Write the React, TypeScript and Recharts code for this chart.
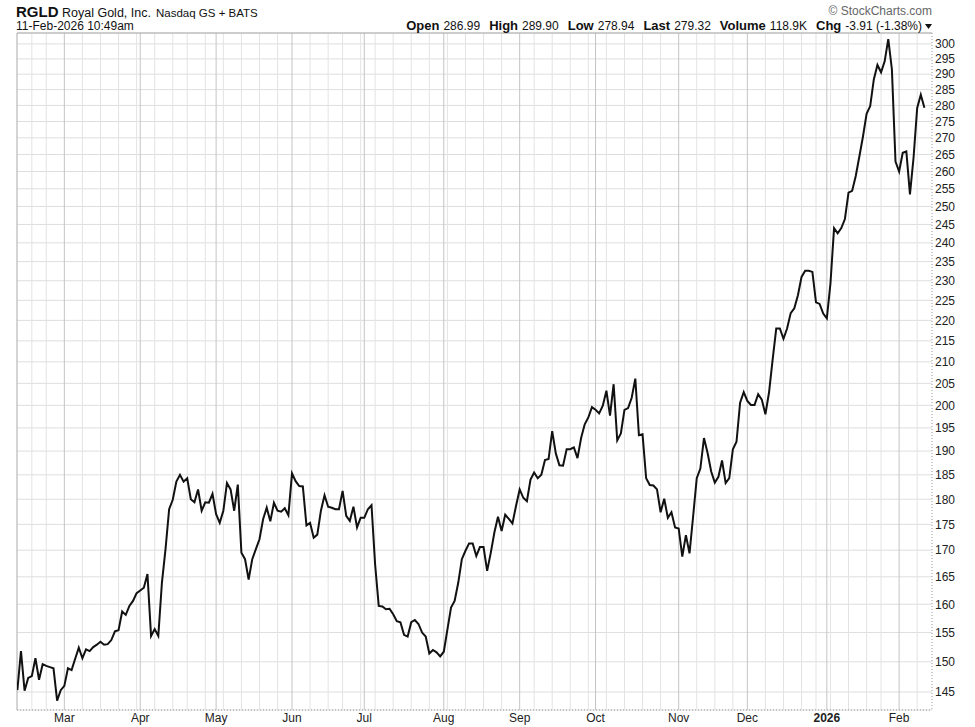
import { LineChart, Line, XAxis, YAxis, CartesianGrid, ReferenceLine } from 'recharts';

// daily closes (trading days only)
const feb25 = [145.3, 151.8, 145.2, 147.3, 147.6, 150.6, 147.0, 149.6, 149.3, 149.1, 148.9, 143.6, 145.3];
const mar25 = [146.0, 148.9, 148.6, 150.5, 152.4, 150.6, 152.1, 151.8, 152.5, 152.9, 153.4, 152.9, 153.0, 153.7, 155.2, 155.4, 158.7, 158.1, 159.7, 160.6, 162.0];
const apr25 = [162.5, 163.0, 165.5, 154.4, 155.6, 154.4, 163.9, 170.2, 178.0, 179.9, 183.6, 185.0, 183.6, 184.3, 180.0, 179.4, 182.0, 177.7, 179.4, 179.3, 181.1];
const may25 = [177.0, 175.3, 177.7, 183.3, 182.0, 177.7, 183.0, 169.5, 168.3, 164.5, 168.3, 170.2, 172.1, 176.0, 178.3, 175.6, 179.3, 177.7, 177.5, 178.2, 176.8];
const jun25 = [185.3, 183.7, 182.7, 182.6, 174.8, 175.3, 172.4, 173.0, 177.7, 180.8, 178.5, 178.3, 178.0, 178.0, 181.7, 176.7, 175.7, 178.5, 174.4, 176.3];
const jul25 = [176.3, 178.0, 178.8, 167.3, 159.7, 159.6, 159.1, 159.2, 158.2, 157.0, 156.8, 154.6, 154.3, 156.8, 157.2, 156.5, 155.0, 154.3, 151.4, 152.0, 151.6, 150.9];
const aug25 = [151.7, 155.5, 159.4, 160.6, 163.9, 168.3, 169.9, 171.3, 171.3, 168.9, 170.6, 170.6, 166.1, 169.5, 173.4, 176.5, 173.7, 176.9, 176.1, 175.2, 178.7];
const sep25 = [182.0, 180.3, 179.6, 184.0, 185.5, 184.3, 185.0, 188.1, 188.3, 194.3, 189.5, 187.0, 186.9, 190.4, 190.4, 190.8, 188.5, 192.8, 195.8, 197.3, 199.6];
const oct25 = [199.0, 198.2, 199.9, 203.3, 197.7, 204.8, 192.3, 193.8, 199.0, 199.4, 201.7, 206.1, 193.4, 193.6, 184.3, 182.9, 182.8, 182.0, 177.4, 180.1, 176.3, 177.4, 174.4];
const nov25 = [174.2, 168.8, 172.9, 169.4, 176.6, 184.3, 186.3, 192.8, 189.6, 185.7, 183.4, 184.6, 188.0, 183.3, 184.3, 190.4, 192.0, 200.6, 203.0];
const dec25 = [201.0, 200.1, 200.1, 202.5, 201.3, 198.0, 202.9, 210.5, 218.0, 218.0, 215.5, 218.0, 221.8, 223.0, 226.3, 231.0, 232.6, 232.6, 232.3, 224.5, 224.1, 221.7];
const jan26 = [220.5, 229.3, 244.0, 242.6, 244.0, 246.5, 253.9, 254.4, 258.7, 264.4, 270.4, 277.4, 279.8, 288.3, 293.0, 290.6, 294.2, 301.6, 291.6, 262.9];
const feb26 = [260.0, 265.5, 265.9, 253.4, 264.1, 279.2, 283.4, 279.3];

const monthLabels = ['Mar', 'Apr', 'May', 'Jun', 'Jul', 'Aug', 'Sep', 'Oct', 'Nov', 'Dec', '2026', 'Feb'];
const priceTicks = [145, 150, 155, 160, 165, 170, 175, 180, 185, 190, 195, 200, 205, 210, 215, 220, 225, 230, 235, 240, 245, 250, 255, 260, 265, 270, 275, 280, 285, 290, 295, 300];
const holidays = ['2025-02-17', '2025-04-18', '2025-05-26', '2025-06-19', '2025-07-04', '2025-09-01', '2025-11-27', '2025-12-25', '2026-01-01', '2026-01-19'];

const closes = [...feb25, ...mar25, ...apr25, ...may25, ...jun25, ...jul25, ...aug25, ...sep25, ...oct25, ...nov25, ...dec25, ...jan26, ...feb26];

function tradingDays(start: string, count: number) {
  const out: Date[] = [];
  const d = new Date(start + 'T12:00:00Z');
  while (out.length < count) {
    const dow = d.getUTCDay();
    if (dow !== 0 && dow !== 6 && !holidays.includes(d.toISOString().slice(0, 10))) out.push(new Date(d));
    d.setUTCDate(d.getUTCDate() + 1);
  }
  return out;
}

const dates = tradingDays('2025-02-11', closes.length);
const data = closes.map((close, i) => ({ i, close }));

const monthStarts: number[] = [];
const weekStarts: number[] = [];
dates.forEach((d, i) => {
  if (i === 0) return;
  const p = dates[i - 1];
  if (d.getUTCMonth() !== p.getUTCMonth()) monthStarts.push(i);
  else if (d.getUTCDay() < p.getUTCDay()) weekStarts.push(i);
});

const FONT = '"Liberation Sans", Arial, sans-serif';
const X_MIN = -0.1;
const X_MAX = 253.1;
const Y_MIN = 142.1;
const Y_MAX = 303.7;

const MonthTick = (props: any) => {
  const { x, y, payload } = props;
  const label = monthLabels[monthStarts.indexOf(payload.value)];
  return (
    <text x={x} y={y + 12} textAnchor="middle" fontSize={12} fill="#222" fontFamily={FONT}
      fontWeight={label === '2026' ? 'bold' : 'normal'}>
      {label}
    </text>
  );
};

const Header = () => (
  <svg width={975} height={34} style={{ position: 'absolute', left: 0, top: 0 }} fontFamily={FONT}>
    <text x={16} y={16.5} fontSize={15} fontWeight="bold" fill="#111">RGLD</text>
    <text x={62} y={16.5} fontSize={12.5} fill="#111">Royal Gold, Inc.</text>
    <text x={156} y={16.5} fontSize={11.5} fill="#111">Nasdaq GS + BATS</text>
    <text x={932} y={15} fontSize={12} fill="#666" textAnchor="end">© StockCharts.com</text>
    <text x={16} y={29.5} fontSize={12} fill="#111">11-Feb-2026 10:49am</text>
    <text x={922} y={29.5} fontSize={12} fill="#111" textAnchor="end">
      <tspan fontWeight="bold" fontSize={13}>Open</tspan>
      <tspan dx={4}>286.99</tspan>
      <tspan dx={9} fontWeight="bold" fontSize={13}>High</tspan>
      <tspan dx={4}>289.90</tspan>
      <tspan dx={9} fontWeight="bold" fontSize={13}>Low</tspan>
      <tspan dx={4}>278.94</tspan>
      <tspan dx={9} fontWeight="bold" fontSize={13}>Last</tspan>
      <tspan dx={4}>279.32</tspan>
      <tspan dx={9} fontWeight="bold" fontSize={13}>Volume</tspan>
      <tspan dx={4}>118.9K</tspan>
      <tspan dx={9} fontWeight="bold" fontSize={13}>Chg</tspan>
      <tspan dx={4}>-3.91 (-1.38%)</tspan>
    </text>
    <polygon points="925,24 932,24 928.5,29" fill="#111" />
  </svg>
);

export default function App() {
  return (
    <div style={{ position: 'absolute', left: 0, top: 0, width: 975, height: 727, background: '#fff' }}>
      <LineChart width={975} height={727} data={data} margin={{ top: 33, right: 0, bottom: 0, left: 17 }}>
        <CartesianGrid vertical={false} stroke="#dedede" />
        {weekStarts.map((i) => (
          <ReferenceLine key={'w' + i} x={i} stroke="#e3e3e3" />
        ))}
        {monthStarts.map((i) => (
          <ReferenceLine key={'m' + i} x={i} stroke="#c4c4c4" />
        ))}
        <ReferenceLine x={X_MIN} stroke="#aaa" />
        <ReferenceLine y={Y_MAX} stroke="#aaa" />
        <XAxis
          dataKey="i"
          type="number"
          domain={[X_MIN, X_MAX]}
          allowDataOverflow
          ticks={monthStarts}
          interval={0}
          height={17}
          tickSize={0}
          tickMargin={0}
          tickLine={false}
          axisLine={{ stroke: '#999', strokeDasharray: '1 2' }}
          tick={(p: any) => <MonthTick {...p} />}
        />
        <YAxis
          orientation="right"
          scale="log"
          domain={[Y_MIN, Y_MAX]}
          allowDataOverflow
          ticks={priceTicks}
          interval={0}
          width={43}
          tickSize={0}
          tickMargin={3}
          tickLine={false}
          axisLine={{ stroke: '#999', strokeDasharray: '1 2' }}
          tick={{ fontSize: 12, fill: '#222', fontFamily: FONT }}
        />
        <Line type="linear" dataKey="close" stroke="#111" strokeWidth={2} dot={false} isAnimationActive={false} />
      </LineChart>
      <Header />
    </div>
  );
}
